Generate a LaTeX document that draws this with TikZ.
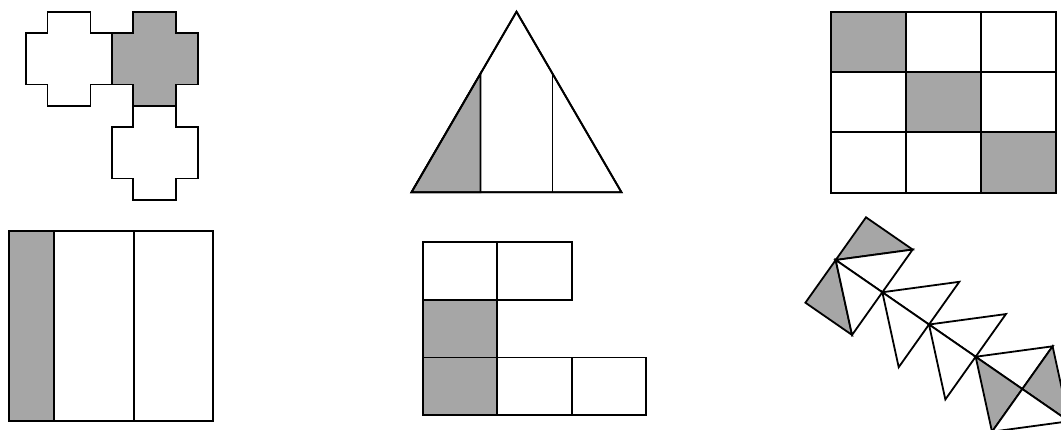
\documentclass[tikz,border=0pt]{standalone}
\usetikzlibrary{calc}
\definecolor{shade}{RGB}{166,166,166}
\tikzset{
  edge/.style={draw=black, line width=1.8pt, line join=miter},
  grayfill/.style={edge, fill=shade},
  whitefill/.style={edge, fill=white}
}
\begin{document}
\begin{tikzpicture}[x=1pt, y=-1pt]
\useasboundingbox (0,0) rectangle (1061,429);
\clip (0,0) rectangle (1061,429);
% ---------- crosses ----------
\begin{scope}[shift={(26,11.7)}]
  \path[whitefill] (21.5,0) -- ++(43,0) -- ++(0,21.3) -- ++(21.5,0) -- ++(0,51.4) -- ++(-21.5,0) -- ++(0,21.3) -- ++(-43,0) -- ++(0,-21.3) -- ++(-21.5,0) -- ++(0,-51.4) -- ++(21.5,0) -- cycle;
\end{scope}
\begin{scope}[shift={(111.7,105.7)}]
  \path[whitefill] (21.5,0) -- ++(43,0) -- ++(0,21.3) -- ++(21.5,0) -- ++(0,51.4) -- ++(-21.5,0) -- ++(0,21.3) -- ++(-43,0) -- ++(0,-21.3) -- ++(-21.5,0) -- ++(0,-51.4) -- ++(21.5,0) -- cycle;
\end{scope}
\begin{scope}[shift={(111.7,11.7)}]
  \path[grayfill] (21.5,0) -- ++(43,0) -- ++(0,21.3) -- ++(21.5,0) -- ++(0,51.4) -- ++(-21.5,0) -- ++(0,21.3) -- ++(-43,0) -- ++(0,-21.3) -- ++(-21.5,0) -- ++(0,-51.4) -- ++(21.5,0) -- cycle;
\end{scope}
% ---------- triangle ----------
\coordinate (tA) at (516.5,11.7);
\coordinate (tL) at (411.5,192.3);
\coordinate (tR) at (621.5,192.3);
\coordinate (tl1) at (480.5,192.3);
\coordinate (tl2) at (480.5,73.6);
\coordinate (tr1) at (552.5,192.3);
\coordinate (tr2) at (552.5,73.6);
\path[whitefill] (tL) -- (tA) -- (tR) -- cycle;
\path[grayfill] (tL) -- (tl2) -- (tl1) -- cycle;
\draw[edge] (tl1) -- (tl2) (tr1) -- (tr2);
\draw[edge] (tL) -- (tA) -- (tR) -- cycle;
% ---------- 3x3 grid ----------
\path[grayfill] (831,11.7) rectangle (906,72);
\path[grayfill] (906,72) rectangle (981,132.3);
\path[grayfill] (981,132.3) rectangle (1056,192.6);
\draw[edge] (831,11.7) rectangle (1056,192.6);
\draw[edge] (906,11.7) -- (906,192.6) (981,11.7) -- (981,192.6)
            (831,72) -- (1056,72) (831,132.3) -- (1056,132.3);
% ---------- bottom-left rectangle ----------
\path[grayfill] (8.7,230.7) rectangle (54.3,420.7);
\draw[edge] (8.7,230.7) rectangle (212.7,420.7);
\draw[edge] (54.3,230.7) -- (54.3,420.7) (133.7,230.7) -- (133.7,420.7);
% ---------- L shape ----------
\path[whitefill] (423.3,241.7) rectangle (497.3,300);
\path[whitefill] (497.3,241.7) rectangle (571.7,300);
\path[grayfill] (423.3,300) rectangle (497.3,357.5);
\path[grayfill] (423.3,357.5) rectangle (497.3,415);
\path[whitefill] (497.3,357.5) rectangle (571.7,415);
\path[whitefill] (571.7,357.5) rectangle (645.7,415);
% ---------- triangle chain ----------
\coordinate (C) at (835.7,260);
\coordinate (d) at (46.65,32.25);
\coordinate (e) at (30.3,-42.7);
\coordinate (A) at ($(C)+(e)$);
\coordinate (F) at ($(C)+(d)$);
\coordinate (B) at ($(F)+(e)$);
\coordinate (D) at ($(C)-(e)$);
\coordinate (E) at ($(F)-(e)$);
\coordinate (I) at ($(F)+(d)$);
\coordinate (G) at ($(I)+(e)$);
\coordinate (H) at ($(I)-(e)$);
\coordinate (L) at ($(I)+(d)$);
\coordinate (J) at ($(L)+(e)$);
\coordinate (K) at ($(L)-(e)$);
\coordinate (N) at ($(L)+(d)$);
\coordinate (M) at ($(N)+(e)$);
\coordinate (Q) at ($(N)-(e)$);
\coordinate (P) at ($(N)+(d)$);
\path[grayfill] (C) -- (A) -- (B) -- cycle;
\path[whitefill] (C) -- (B) -- (F) -- cycle;
\path[grayfill] (C) -- (D) -- (E) -- cycle;
\path[whitefill] (C) -- (E) -- (F) -- cycle;
\path[whitefill] (F) -- (G) -- (I) -- cycle;
\path[whitefill] (F) -- (H) -- (I) -- cycle;
\path[whitefill] (I) -- (J) -- (L) -- cycle;
\path[whitefill] (I) -- (K) -- (L) -- cycle;
\path[whitefill] (L) -- (M) -- (N) -- cycle;
\path[grayfill] (L) -- (N) -- (Q) -- cycle;
\path[grayfill] (M) -- (N) -- (P) -- cycle;
\path[whitefill] (N) -- (P) -- (Q) -- cycle;
\end{tikzpicture}
\end{document}
